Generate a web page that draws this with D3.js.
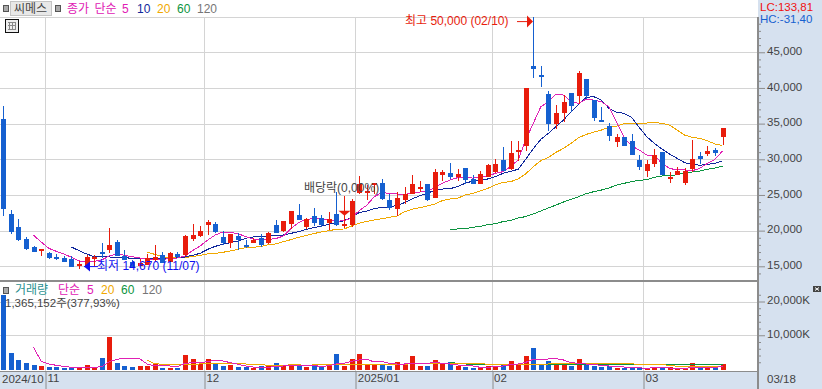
<!DOCTYPE html>
<html>
<head>
<meta charset="utf-8">
<script src="https://cdn.jsdelivr.net/npm/d3@7"></script>
<style>
  html, body { margin: 0; padding: 0; background: #fff; overflow: hidden; }
  text { font-family: "Liberation Sans", "Noto Sans CJK KR", sans-serif; font-size: 12px; }
</style>
</head>
<body>
<div id="chart"></div>
<script>
/**
 * Daily candles, 2024/10 - 2025/03
 */
const opens = [
  35630,22330,20510,18830,17710,17150,16820,16310,16170,16030,
  15140,15050,16030,17010,17290,18410,16450,15560,15050,15190,
  15890,16590,15610,16730,16590,18830,19250,20790,20930,19110,
  18270,19250,17990,18270,18970,18270,20790,19950,20930,22190,
  20510,22050,21770,21070,22330,20650,20790,25270,25410,26530,
  26680,24290,23030,24290,25130,25970,26530,24570,27800,28080,
  27520,28780,27240,26530,27520,28220,29900,28640,31020,31860,
  43070,41810,39140,34940,36480,39280,38860,41240,38300,35500,
  34660,32420,33120,32560,29900,28360,29340,31020,27240,27800,
  26680,28640,30460,30740,31300,33120
];
const highs = [
  37450,22890,21630,19060,17800,17430,17010,16730,16450,16450,
  15750,16590,16590,18270,20370,18690,17290,15890,16030,16730,
  17990,17010,17010,17010,19390,20930,20650,21490,21210,19950,
  19530,19670,18690,18970,19530,19810,21490,21350,22750,23730,
  21770,23170,22190,22610,25410,24850,24430,27660,26390,26680,
  27240,25130,25410,26110,27800,26950,26530,28640,28500,29480,
  28640,28780,27800,28360,29340,30040,31720,32560,32560,40000,
  50000,43070,39560,37600,39000,39280,42370,41240,38300,37320,
  35080,33540,33120,33540,30600,29900,31440,31020,28220,28920,
  28780,32700,31020,31860,31580,34380
];
const lows = [
  22090,19580,18550,17340,17010,16450,16030,15840,15610,14910,
  14670,14910,15050,16170,16870,16450,15890,14720,15050,15190,
  15610,15470,15610,16170,16450,18550,19110,19390,19670,17990,
  17570,17290,17570,18270,17710,18130,19670,19810,20230,21490,
  20230,20650,20510,20090,20650,20370,20510,25130,24290,25130,
  24290,22890,22050,23730,25130,25410,24150,24570,26950,27240,
  26950,26530,26530,26530,27520,28080,28360,28500,29760,31160,
  41390,40120,33960,34240,35220,36620,37740,38440,35360,35220,
  32560,31720,31860,30600,28500,27520,28920,27800,26680,27800,
  26390,28220,29340,30460,30460,32000
];
const closes = [
  23030,19860,18640,17430,17010,17430,16170,16030,15610,14910,
  15330,16310,16310,16730,17990,16450,15890,14860,15470,16170,
  16310,15470,16870,16310,19250,19390,19950,21210,19810,18270,
  19530,18690,17850,18690,17990,19670,19670,21350,22750,21490,
  21630,21070,20790,21630,20790,20930,24150,26530,25550,26680,
  24430,23170,24570,25130,26530,26110,24290,28220,28220,27520,
  27940,27100,26530,27940,29200,29340,28360,30880,31300,40000,
  42650,41530,34940,36480,38020,37460,42090,38860,35780,35360,
  33260,33120,31860,30600,28920,29340,30600,27800,27520,28360,
  28360,30040,30040,31160,30880,34380
];

// Moving averages, null until the line starts
const none = (n) => Array(n).fill(null);
const priceMa5 = none(4).concat([
  19340,18410,17520,17100,16730,16260,15750,15700,15700,15890,
  16450,16730,16540,16350,16170,15980,15980,15980,16070,16170,
  16450,17190,17850,18690,19390,19810,19760,19580,19160,18830,
  18780,18780,18880,19250,20280,21120,21580,21680,21680,21490,
  21300,21400,21770,22800,23550,24760,25320,25230,25130,25090,
  25230,25410,25510,26060,26630,27100,27420,27560,27370,27420,
  27660,28030,28260,28960,29900,32700,35030,37370,38070,39100,
  39000,38070,37840,38440,38300,38070,37370,35270,33070,31860,
  31300,30600,30550,29430,28730,28500,28500,28400,28730,29430,
  29990,31160
]);
const priceMa10 = none(9).concat([
  17710,17190,16730,16350,16310,16310,16260,16210,16120,16070,
  16070,16070,16070,16120,16170,16310,16540,16820,17380,17800,
  18080,18320,18550,18920,19110,19160,19250,19250,19390,19620,
  19860,20180,20420,20650,20880,21120,21400,21860,22520,22750,
  23080,23270,23310,23550,23920,24430,24900,25230,25650,25830,
  25880,26160,26630,26950,27100,27240,27560,28030,28300,28600,
  30000,31480,32790,33630,34570,35500,36670,37740,38680,38770,
  38300,37140,36580,36440,35870,34470,33170,32230,31440,30740,
  30130,29520,29340,29150,29290,29430,29800
]);
const priceMa20 = none(19).concat([
  16960,16680,16350,16210,16210,16260,16350,16540,16730,16820,
  16960,17150,17380,17620,17660,17760,18040,18130,18460,18740,
  19060,19340,19580,19810,20000,20180,20230,20650,21020,21300,
  21490,21680,21860,22050,22660,22990,23220,23450,23730,24200,
  24430,24530,24990,25230,25550,25930,26400,26770,26860,27240,
  27940,28960,29800,30270,30970,31530,32230,33030,33490,33820,
  34100,34470,34660,34990,35030,35030,35080,35170,35030,34800,
  34100,33400,33070,32930,32610,32140,31950
]);
const priceMa60 = none(59).concat([
  20180,20230,20280,20460,20600,20840,20980,21260,21440,21760,
  21970,22330,22750,23170,23590,24010,24390,24760,25180,25460,
  25690,25970,26390,26630,26860,27050,27140,27470,27660,27660,
  27840,28080,28220,28360,28590,28780,29010
]);

// Volume in thousands of shares
const volumes = [
  21980,4750,2670,1780,1190,890,590,690,400,400,
  400,1190,590,3270,9500,1780,890,590,890,890,
  1490,300,300,400,4160,2970,1580,2970,1490,890,
  1190,590,690,400,890,990,1780,990,1190,1290,
  590,1190,690,1190,4460,890,2970,4460,1290,1290,
  1490,890,2080,1290,3860,890,890,2670,1490,2080,
  890,590,300,400,890,890,1190,2380,1490,3860,
  6240,1490,2380,1490,1190,890,2970,1190,890,590,
  890,300,400,400,400,200,590,400,590,300,
  200,1780,590,590,400,1365
];
const volMa5 = none(4).concat([
  6440,2260,1480,1090,790,500,500,500,500,690,
  2180,2870,3170,3170,3070,1480,890,890,890,690,
  1680,1880,1880,2180,2570,2380,1880,1390,890,590,
  500,500,790,890,990,890,1090,1090,690,990,
  1480,1680,2270,2670,2870,2080,2270,1680,1480,1480,
  1680,1680,1680,1980,1680,1480,1190,1090,890,500,
  500,690,890,1290,1480,1980,2870,2670,2970,3070,
  2670,1880,1680,1480,1290,1090,890,790,590,500,
  400,100,500,400,300,200,100,500,500,500,
  400,890
]);
const volMa20 = none(19).concat([
  2670,1580,1390,1390,1390,1390,1390,1490,1490,1490,
  1580,1490,1490,1490,1290,1290,1090,990,990,1290,
  1290,890,1290,1290,1290,1290,1290,1290,1290,1290,
  1290,1290,1290,1290,1290,1680,1680,1680,1680,1680,
  1680,1680,1680,1680,1680,1390,1390,1390,1390,1390,
  1390,1390,1390,1490,1580,1580,1580,1580,1580,1580,
  1580,1580,1580,1580,1580,1290,1290,1290,1290,1090,
  790,790,790,790,790,790,890
]);
const volMa60 = none(59).concat([
  1980,1680,1490,1390,1390,1390,1390,1390,1390,1390,
  1390,1390,1390,1390,1290,1290,1290,1290,1290,1290,
  1290,1290,1290,1290,1290,1290,1290,1290,1290,1290,
  1290,1290,1290,1290,1290,1290,1290
]);

// Month boundaries sit between two candles
const monthTicks = [5.5, 26.5, 46.5, 64.5, 84.5];
const monthLabels = ["11", "12", "2025/01", "02", "03"];
const priceTicks = [15000, 20000, 25000, 30000, 35000, 40000, 45000];
const volumeTicks = [10000, 20000];

/**
 * Basic Settings
 */
const canvasWidth = 822;
const canvasHeight = 389;
const plotRight = 758;
const priceBottom = 281;
const volumeBottom = 371;
const red = "#e81c0c";
const blue = "#1560d0";
const magenta = "#e020b4";
const navy = "#10289c";
const orange = "#f0a800";
const green = "#0c9440";
const gray = "#767676";
const teal = "#2a9090";
const inkColor = "#444";
const gridColor = "#d4d4d4";
const bandColor = "#d6e1ef";
const axisColor = "#8c8c8c";

const svg = d3.select("#chart")
  .append("svg")
  .attr("width", canvasWidth)
  .attr("height", canvasHeight)
  .style("display", "block")
  .style("background", "#fff");

const xScale = d3.scaleLinear().domain([0, 95]).range([3.3, 722.5]);
const yPrice = d3.scaleLinear().domain([15000, 50000]).range([266.3, 16.6]);
const yVolume = d3.scaleLinear().domain([0, 20000]).range([369, 301.5]);
const px = (v) => Math.round(v) + 0.5;

// Axis bands
svg.append("rect").attr("x", plotRight).attr("y", 0)
  .attr("width", canvasWidth - plotRight).attr("height", canvasHeight).attr("fill", bandColor);
svg.append("rect").attr("x", 0).attr("y", volumeBottom)
  .attr("width", canvasWidth).attr("height", canvasHeight - volumeBottom).attr("fill", bandColor);

/**
 * Grid
 */
const grid = svg.append("g").attr("stroke", gridColor).attr("stroke-width", 1);
grid.selectAll(".g-price").data(priceTicks.concat([50000])).join("line")
  .attr("x1", 0).attr("x2", plotRight)
  .attr("y1", (d) => px(yPrice(d))).attr("y2", (d) => px(yPrice(d)));
grid.selectAll(".g-volume").data(volumeTicks).join("line")
  .attr("x1", 0).attr("x2", plotRight)
  .attr("y1", (d) => px(yVolume(d))).attr("y2", (d) => px(yVolume(d)));
grid.selectAll(".g-month").data(monthTicks).join("line")
  .attr("x1", (d) => px(xScale(d))).attr("x2", (d) => px(xScale(d)))
  .attr("y1", 17).attr("y2", volumeBottom);

/**
 * Lines and marks
 */
function drawLine(values, yScale, color) {
  svg.append("path")
    .datum(values)
    .attr("fill", "none")
    .attr("stroke", color)
    .attr("stroke-width", 1)
    .attr("shape-rendering", "crispEdges")
    .attr("d", d3.line()
      .defined((d) => d !== null)
      .x((d, i) => xScale(i))
      .y((d) => yScale(d)));
}

drawLine(priceMa60, yPrice, green);
drawLine(priceMa20, yPrice, orange);
drawLine(priceMa10, yPrice, navy);
drawLine(priceMa5, yPrice, magenta);

const colorOf = (i) => (closes[i] >= opens[i] ? red : blue);
const candles = svg.append("g").attr("shape-rendering", "crispEdges");
candles.selectAll(".wick").data(d3.range(opens.length)).join("rect")
  .attr("x", (i) => Math.round(xScale(i)))
  .attr("y", (i) => yPrice(highs[i]))
  .attr("width", 1)
  .attr("height", (i) => yPrice(lows[i]) - yPrice(highs[i]))
  .attr("fill", colorOf);
candles.selectAll(".body").data(d3.range(opens.length)).join("rect")
  .attr("x", (i) => Math.round(xScale(i)) - 2)
  .attr("y", (i) => yPrice(Math.max(opens[i], closes[i])))
  .attr("width", 5)
  .attr("height", (i) => Math.max(2, Math.abs(yPrice(opens[i]) - yPrice(closes[i]))))
  .attr("fill", colorOf);

const bars = svg.append("g").attr("shape-rendering", "crispEdges");
bars.selectAll("rect").data(volumes).join("rect")
  .attr("x", (d, i) => Math.round(xScale(i)) - 2)
  .attr("y", (d) => yVolume(d))
  .attr("width", 5)
  .attr("height", (d) => 370 - yVolume(d))
  .attr("fill", (d, i) => colorOf(i));

drawLine(volMa60, yVolume, green);
drawLine(volMa20, yVolume, orange);
drawLine(volMa5, yVolume, magenta);

/**
 * Axes
 */
function rightAxis(yScale, values, size, labelled) {
  const axis = d3.axisRight(yScale)
    .tickValues(values)
    .tickSize(size)
    .tickPadding(2)
    .tickFormat(labelled);
  const g = svg.append("g")
    .attr("transform", "translate(" + plotRight + ",0)")
    .call(axis);
  g.select(".domain").remove();
  g.selectAll("line").attr("stroke", axisColor);
  g.selectAll("text")
    .attr("dy", "0.2em")
    .style("font-size", "11.5px")
    .style("font-family", '"Liberation Sans", sans-serif')
    .attr("fill", inkColor);
}

const comma = d3.format(",");
rightAxis(yPrice, d3.range(14000, 50000, 1000).filter((d) => d % 5000 !== 0), 3, () => "");
rightAxis(yPrice, priceTicks, 7, comma);
rightAxis(yVolume, d3.range(2000, 24000, 2000).filter((d) => d % 10000 !== 0), 3, () => "");
rightAxis(yVolume, volumeTicks, 7, (d) => comma(d) + "K");

const xAxis = svg.append("g")
  .attr("transform", "translate(0," + volumeBottom + ")")
  .call(d3.axisBottom(xScale)
    .tickValues(monthTicks)
    .tickSize(18)
    .tickPadding(0)
    .tickFormat((d, i) => monthLabels[i]));
xAxis.select(".domain").remove();
xAxis.selectAll("line").attr("stroke", axisColor)
  .attr("transform", (d) => "translate(" + (px(xScale(d)) - xScale(d)) + ",0)");
xAxis.selectAll("text")
  .attr("text-anchor", "start")
  .attr("x", 2)
  .attr("y", 3)
  .attr("dy", "0.71em")
  .style("font-size", "11.5px")
  .style("font-family", '"Liberation Sans", sans-serif')
  .attr("fill", inkColor);

// Frame lines
const frame = svg.append("g").attr("stroke", axisColor).attr("shape-rendering", "crispEdges");
frame.append("line").attr("x1", 0).attr("x2", plotRight).attr("y1", priceBottom).attr("y2", priceBottom).attr("stroke-width", 2);
frame.append("line").attr("x1", 0).attr("x2", plotRight).attr("y1", volumeBottom + 0.5).attr("y2", volumeBottom + 0.5);
frame.append("line").attr("x1", plotRight).attr("x2", plotRight).attr("y1", 17).attr("y2", canvasHeight).attr("stroke-width", 2);

/**
 * Texts
 */
function label(x, y, text, color) {
  return svg.append("text")
    .attr("x", x).attr("y", y)
    .attr("dominant-baseline", "central")
    .attr("fill", color)
    .text(text);
}

function square(x, y) {
  svg.append("rect").attr("x", x + 0.5).attr("y", y + 0.5).attr("width", 5).attr("height", 6)
    .attr("fill", "#aaa").attr("stroke", "#555");
}

// Price header
square(3, 5);
svg.append("rect").attr("x", 10.5).attr("y", 1.5).attr("width", 41).attr("height", 14)
  .attr("fill", "#e8e8e8").attr("stroke", "#c4c4c4");
label(14, 9, "씨메스", inkColor);
square(55, 5);
label(67, 9, "종가 단순", magenta).style("word-spacing", "2px");
label(122, 9, "5", magenta);
label(137, 9, "10", navy);
label(157, 9, "20", orange);
label(177, 9, "60", green);
label(197, 9, "120", gray);

// Table icon
svg.append("rect").attr("x", 5.5).attr("y", 19.5).attr("width", 13).attr("height", 13)
  .attr("fill", "#eee").attr("stroke", "#111");
const icon = svg.append("g").attr("stroke", "#888");
[9.5, 12.5, 15.5].forEach((x) => icon.append("line").attr("x1", x).attr("x2", x).attr("y1", 22).attr("y2", 30));
[22.5, 25.5, 29.5].forEach((y) => icon.append("line").attr("x1", 8).attr("x2", 16).attr("y1", y).attr("y2", y));

// Volume header
square(3, 287);
label(15, 290, "거래량", teal);
label(58, 290, "단순", magenta);
label(87, 290, "5", magenta);
label(101, 290, "20", orange);
label(121, 290, "60", green);
label(142, 290, "120", gray);
label(5, 303, "1,365,152주(377,93%)", inkColor).style("font-size", "11.5px");

// LC / HC
label(760, 7, "LC:133,81", "#f01010").style("font-size", "11.5px");
label(760, 19, "HC:-31,40", blue).style("font-size", "11.5px");

label(767, 379, "03/18", inkColor).style("font-size", "11.5px");
label(2, 379, "2024/10", inkColor).style("font-size", "11.5px");

// Collapse button of the volume panel
svg.append("rect").attr("x", 813).attr("y", 286).attr("width", 8).attr("height", 6).attr("fill", "#444");
svg.append("path").attr("d", "M815 287.5 L819 290.5 M815 290.5 L819 287.5")
  .attr("stroke", "#fff").attr("fill", "none");

/**
 * High, low and dividend notes
 */
const highX = Math.round(xScale(70));
const highY = yPrice(49300);
label(405, 21, "최고 50,000 (02/10)", red);
svg.append("path")
  .attr("d", "M" + (highX - 16) + " " + highY + "H" + (highX - 6))
  .attr("stroke", red).attr("fill", "none");
svg.append("path")
  .attr("d", "M" + highX + " " + highY + "l-6 -6v12z")
  .attr("fill", red);

const lowX = Math.round(xScale(10)) + 5;
const lowY = yPrice(14960);
svg.append("path")
  .attr("d", "M" + lowX + " " + lowY + "H" + (lowX + 14))
  .attr("stroke", "#1010f0").attr("fill", "none");
svg.append("path")
  .attr("d", "M" + lowX + " " + lowY + "l6 -5v10z")
  .attr("fill", "#1010f0");
label(97, 266, "최저 14,670 (11/07)", "#1010f0");

label(304, 188, "배당락(0,00%)", inkColor);
const dividendX = Math.round(xScale(45)) + 0.5;
svg.append("path")
  .attr("d", "M" + dividendX + " " + yPrice(22100) + "l-6 -5h12z")
  .attr("fill", red);
</script>
</body>
</html>
